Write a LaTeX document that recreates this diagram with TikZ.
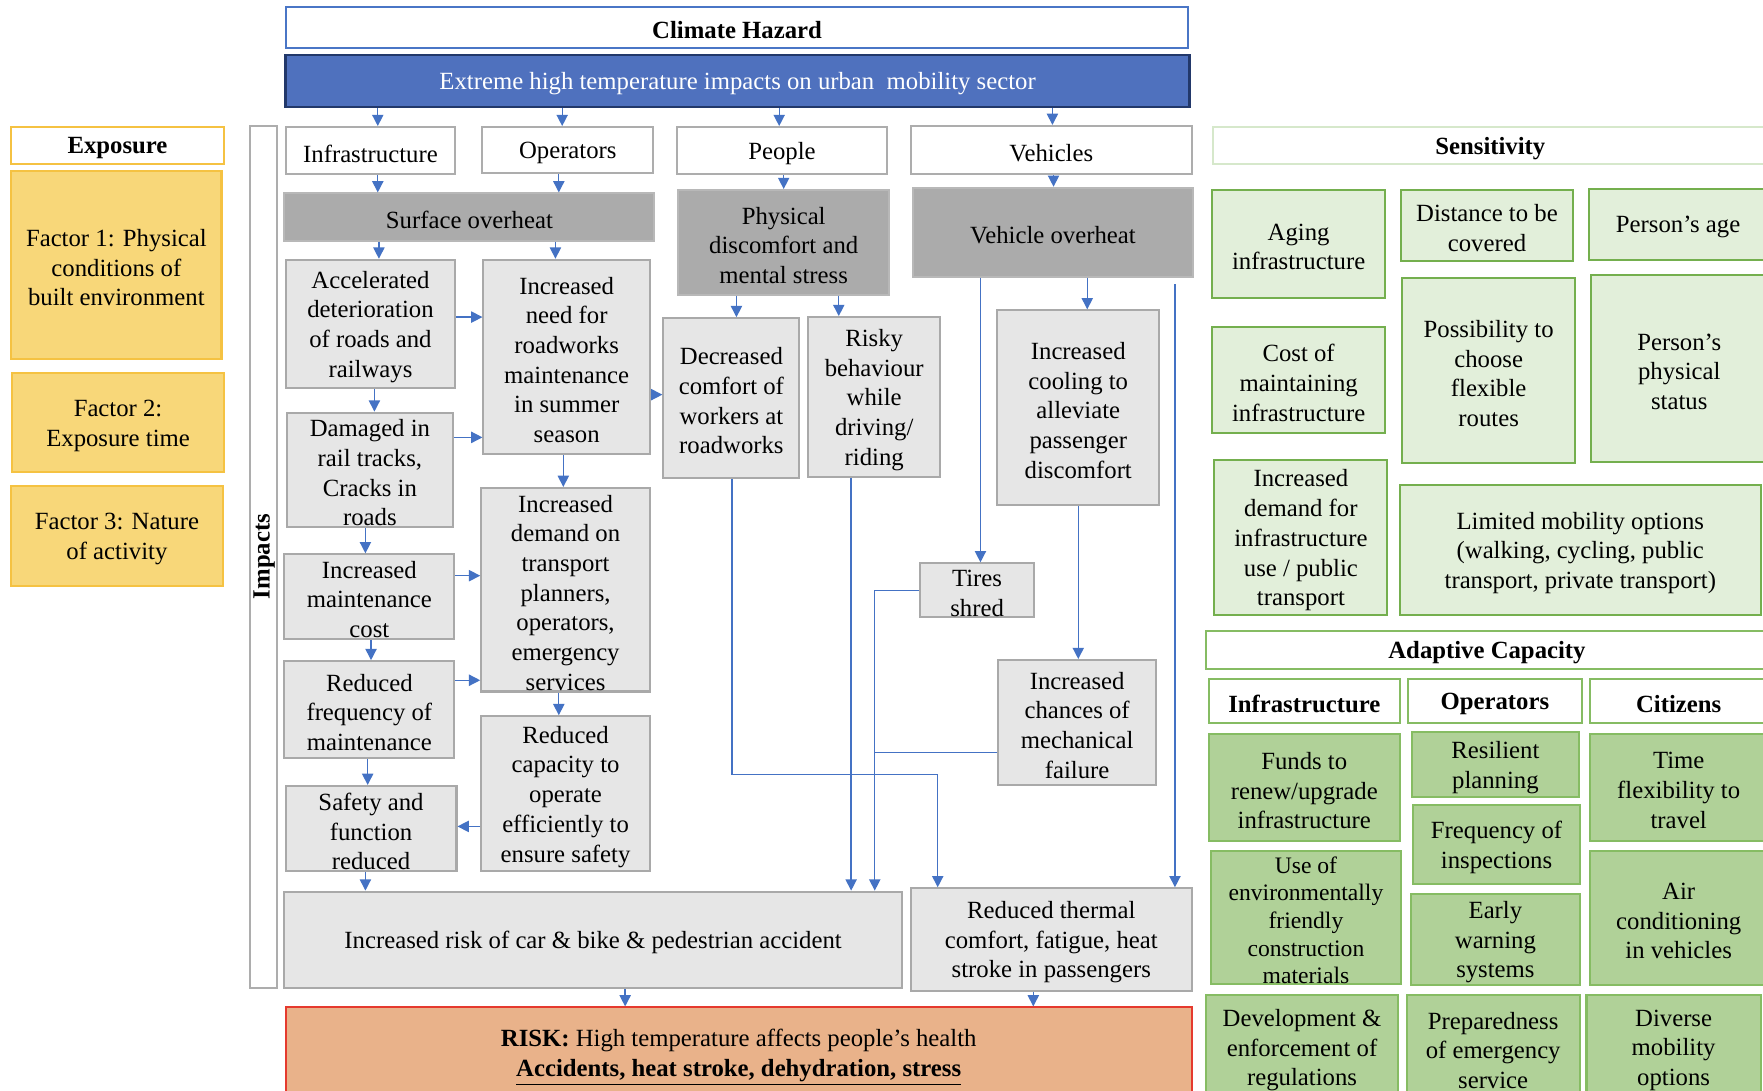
\documentclass[tikz,border=0pt]{standalone}
\usepackage{fontspec}
\setmainfont{Liberation Serif}
\usetikzlibrary{arrows.meta}

\definecolor{arrblue}{HTML}{4472C4}
\definecolor{hazline}{HTML}{4A76C6}
\definecolor{barfill}{HTML}{4F71BE}
\definecolor{barline}{HTML}{22386A}
\definecolor{catline}{HTML}{ADADAD}
\definecolor{darkfill}{HTML}{ABABAB}
\definecolor{litefill}{HTML}{E6E6E6}
\definecolor{liteline}{HTML}{A9A9A9}
\definecolor{goldfill}{HTML}{F8D779}
\definecolor{goldline}{HTML}{F5C242}
\definecolor{sensfill}{HTML}{E2EFDA}
\definecolor{sensline}{HTML}{74AF4E}
\definecolor{senshdline}{HTML}{D6E8CB}
\definecolor{adpfill}{HTML}{B0D198}
\definecolor{adpline}{HTML}{86BC63}
\definecolor{riskfill}{HTML}{E9B28A}
\definecolor{riskline}{HTML}{E53A2E}

% box given by its corners in pixel units: style, name, x1, y1, x2, y2, text;
% the text is set slightly below the geometric centre of the box
\newcommand\bx[7]{%
  \pgfmathsetmacro\bxw{(#5-#3)*0.5}%
  \pgfmathsetmacro\bxh{(#6-#4)*0.5}%
  \node[#1, minimum width=\bxw pt, minimum height=\bxh pt] (#2)
    at ({(#3+#5)/2},{(#4+#6)/2}) {};
  \node[#1, draw=none, fill=none] (#2-txt) at ([yshift=-1.3pt]#2.center) {#7};}

\begin{document}
\begin{tikzpicture}[x=0.5pt, y=-0.5pt,
  boxbase/.style={inner sep=0pt, align=center, line width=0.9pt,
    font=\fontsize{11}{13.2}\selectfont},
  hazardbox/.style={boxbase, draw=hazline, fill=white},
  barbox/.style={boxbase, draw=barline, fill=barfill, text=white, line width=1pt},
  catbox/.style={boxbase, draw=catline, fill=white},
  darkbox/.style={boxbase, draw=darkfill!85, fill=darkfill},
  litebox/.style={boxbase, draw=liteline, fill=litefill},
  goldhead/.style={boxbase, draw=goldline, fill=white},
  goldbox/.style={boxbase, draw=goldline, fill=goldfill},
  senshead/.style={boxbase, draw=senshdline, fill=white},
  sensbox/.style={boxbase, draw=sensline, fill=sensfill},
  adphead/.style={boxbase, draw=adpline, fill=white},
  adpbox/.style={boxbase, draw=adpline, fill=adpfill},
  riskbox/.style={boxbase, draw=riskline, fill=riskfill},
  conn/.style={draw=arrblue, line width=0.6pt},
  arr/.style={conn, -{Triangle[width=5pt,length=5pt]}}
]
\useasboundingbox (0,0) rectangle (1568,970);
\fill[white] (0,0) rectangle (1568,970);

% ---- hazard ----
\bx{hazardbox}{hazard}{254}{6}{1057}{43}{\textbf{Climate Hazard}}
\bx{barbox}{extreme}{254}{49}{1058}{95}{Extreme high temperature impacts on urban\ \ mobility sector}

% ---- impact categories ----
\bx{catbox}{inf}{254}{113}{405}{155}{Infrastructure}
\bx{catbox}{ops}{429}{113}{581}{154}{Operators}
\bx{catbox}{ppl}{602}{113}{789}{155}{People}
\bx{catbox}{veh}{810}{112}{1060}{155}{Vehicles}

\bx{catbox}{impbox}{222}{112}{246}{879}{}
\node[rotate=90, inner sep=0pt, font=\fontsize{11}{13.2}\selectfont\bfseries] (imptxt) at (235,495) {Impacts};

\bx{darkbox}{surf}{253}{172}{582}{214}{Surface overheat}
\bx{darkbox}{phys}{603}{169}{791}{262}{Physical\\discomfort and\\mental stress}
\bx{darkbox}{vov}{812}{167}{1061}{246}{Vehicle overheat}

% ---- impact chain ----
\bx{litebox}{acc}{254}{231}{405}{345}{Accelerated\\deterioration\\of roads and\\railways}
\bx{litebox}{dam}{255}{367}{403}{469}{Damaged in\\rail tracks,\\Cracks in\\roads}
\bx{litebox}{imc}{253}{493}{404}{568}{Increased\\maintenance\\cost}
\bx{litebox}{rfm}{253}{588}{404}{674}{Reduced\\frequency of\\maintenance}
\bx{litebox}{saf}{254}{699}{406}{775}{Safety and\\function\\reduced}
\bx{litebox}{inr}{430}{231}{578}{404}{Increased\\need for\\roadworks\\maintenance\\in summer\\season}
\bx{litebox}{idt}{428}{434}{578}{615}{Increased\\demand on\\transport\\planners,\\operators,\\emergency\\services}
\bx{litebox}{rcp}{428}{637}{578}{775}{Reduced\\capacity to\\operate\\efficiently to\\ensure safety}
\bx{litebox}{dcw}{590}{283}{711}{425}{Decreased\\comfort of\\workers at\\roadworks}
\bx{litebox}{rbd}{719}{282}{836}{424}{Risky\\behaviour\\while\\driving/\\riding}
\bx{litebox}{icl}{887}{276}{1031}{449}{Increased\\cooling to\\alleviate\\passenger\\discomfort}
\bx{litebox}{tir}{818}{501}{920}{549}{Tires\\shred}
\bx{litebox}{icm}{888}{587}{1028}{698}{Increased\\chances of\\mechanical\\failure}
\bx{litebox}{irk}{253}{793}{802}{879}{Increased risk of car \& bike \& pedestrian accident}
\bx{litebox}{rtc}{810}{790}{1060}{881}{Reduced thermal\\comfort, fatigue, heat\\stroke in passengers}
\bx{riskbox}{risk}{254}{896}{1060}{980}{\textbf{RISK:} High temperature affects people’s health\\\textbf{\underline{Accidents, heat stroke, dehydration, stress}}}

% ---- exposure ----
\bx{goldhead}{exh}{10}{113}{199}{146}{\textbf{Exposure}}
\bx{goldbox}{fa}{10}{152}{197}{319}{Factor 1: Physical\\conditions of\\built environment}
\bx{goldbox}{fb}{11}{332}{199}{420}{Factor 2:\\Exposure time}
\bx{goldbox}{fc}{10}{432}{198}{521}{Factor 3: Nature\\of activity}

% ---- sensitivity ----
\bx{senshead}{sh}{1079}{113}{1572}{146}{\textbf{Sensitivity}}
\bx{sensbox}{sa}{1078}{169}{1232}{265}{Aging\\infrastructure}
\bx{sensbox}{sb}{1246}{169}{1399}{232}{Distance to be\\covered}
\bx{sensbox}{sc}{1413}{168}{1572}{231}{Person’s age}
\bx{sensbox}{sd}{1078}{291}{1232}{385}{Cost of\\maintaining\\infrastructure}
\bx{sensbox}{se}{1247}{247}{1401}{412}{Possibility to\\choose\\flexible\\routes}
\bx{sensbox}{sf}{1415}{245}{1572}{411}{Person’s\\physical\\status}
\bx{sensbox}{sg}{1080}{409}{1234}{547}{Increased\\demand for\\infrastructure\\use / public\\transport}
\bx{sensbox}{si}{1245}{431}{1566}{547}{Limited mobility options\\(walking, cycling, public\\transport, private transport)}

% ---- adaptive capacity ----
\bx{adphead}{ah}{1073}{561}{1572}{595}{\textbf{Adaptive Capacity}}
\bx{adphead}{aha}{1075}{604}{1245}{643}{\textbf{Infrastructure}}
\bx{adphead}{ahb}{1252}{604}{1407}{643}{\textbf{Operators}}
\bx{adphead}{ahc}{1414}{604}{1572}{643}{\textbf{Citizens}}
\bx{adpbox}{aa}{1075}{653}{1245}{748}{Funds to\\renew/upgrade\\infrastructure}
\bx{adpbox}{ab}{1256}{651}{1404}{709}{Resilient\\planning}
\bx{adpbox}{ac}{1257}{716}{1405}{786}{Frequency of\\inspections}
\bx{adpbox}{ad}{1414}{653}{1572}{748}{Time\\flexibility to\\travel}
\bx{adpbox, font=\fontsize{10.5}{12.3}\selectfont}{ae}{1077}{757}{1246}{875}{Use of\\environmentally\\friendly\\construction\\materials}
\bx{adpbox}{af}{1255}{795}{1405}{876}{Early\\warning\\systems}
\bx{adpbox}{ag}{1414}{757}{1572}{876}{Air\\conditioning\\in vehicles}
\bx{adpbox}{ai}{1073}{885}{1243}{978}{Development \&\\enforcement of\\regulations}
\bx{adpbox}{aj}{1251}{885}{1405}{978}{Preparedness\\of emergency\\service}
\bx{adpbox}{ak}{1411}{885}{1566}{978}{Diverse\\mobility\\options}

% ---- connectors ----
\draw[arr] (extreme.south -| 336,0) -- (inf.north -| 336,0);
\draw[arr] (extreme.south -| 500,0) -- (ops.north -| 500,0);
\draw[arr] (extreme.south -| 693,0) -- (ppl.north -| 693,0);
\draw[arr] (extreme.south -| 936,0) -- (veh.north -| 936,0);

\draw[arr] (inf.south -| 336,0) -- (surf.north -| 336,0);
\draw[arr] (ops.south -| 497,0) -- (surf.north -| 497,0);
\draw[arr] (ppl.south -| 697,0) -- (phys.north -| 697,0);
\draw[arr] (veh.south -| 937,0) -- (vov.north -| 937,0);

\draw[arr] (surf.south -| 337,0) -- (acc.north -| 337,0);
\draw[arr] (surf.south -| 494,0) -- (inr.north -| 494,0);

\draw[arr] (acc.south -| 333,0) -- (dam.north -| 333,0);
\draw[arr] (dam.south -| 325,0) -- (imc.north -| 325,0);
\draw[arr] (imc.south -| 330,0) -- (rfm.north -| 330,0);
\draw[arr] (rfm.south -| 327,0) -- (saf.north -| 327,0);
\draw[arr] (saf.south -| 325,0) -- (irk.north -| 325,0);

\draw[arr] (acc.east |- 0,282) -- (inr.west |- 0,282);
\draw[arr] (dam.east |- 0,389) -- (inr.west |- 0,389);
\draw[arr] (imc.east |- 0,512) -- (idt.west |- 0,512);
\draw[arr] (rfm.east |- 0,605) -- (idt.west |- 0,605);
\draw[arr] (inr.south -| 501,0) -- (idt.north -| 501,0);
\draw[arr] (idt.south -| 497,0) -- (rcp.north -| 497,0);
\draw[arr] (rcp.west |- 0,735) -- (saf.east |- 0,735);
\draw[arr] (inr.east |- 0,351) -- (dcw.west |- 0,351);

\draw[arr] (phys.south -| 655,0) -- (dcw.north -| 655,0);
\draw[arr] (phys.south -| 746,0) -- (rbd.north -| 746,0);
\draw[arr] (dcw.south -| 651,0) -- (651,689) -- (834,689) -- (rtc.north -| 834,0);
\draw[arr] (rbd.south -| 757,0) -- (irk.north -| 757,0);

\draw[arr] (vov.south -| 872,0) -- (tir.north -| 872,0);
\draw[arr] (vov.south -| 967,0) -- (icl.north -| 967,0);
\draw[arr] (icl.south -| 959,0) -- (icm.north -| 959,0);
\draw[arr, shorten <=3pt] (vov.south -| 1045,0) -- (rtc.north -| 1045,0);

\draw[arr] (tir.west) -| (irk.north -| 778,0);
\coordinate (mechjoin) at (778,669);
\draw[conn] (icm.west |- mechjoin) -- (mechjoin);

\draw[arr] (irk.south -| 556,0) -- (risk.north -| 556,0);
\draw[arr] (rtc.south -| 919,0) -- (risk.north -| 919,0);
\end{tikzpicture}
\end{document}
